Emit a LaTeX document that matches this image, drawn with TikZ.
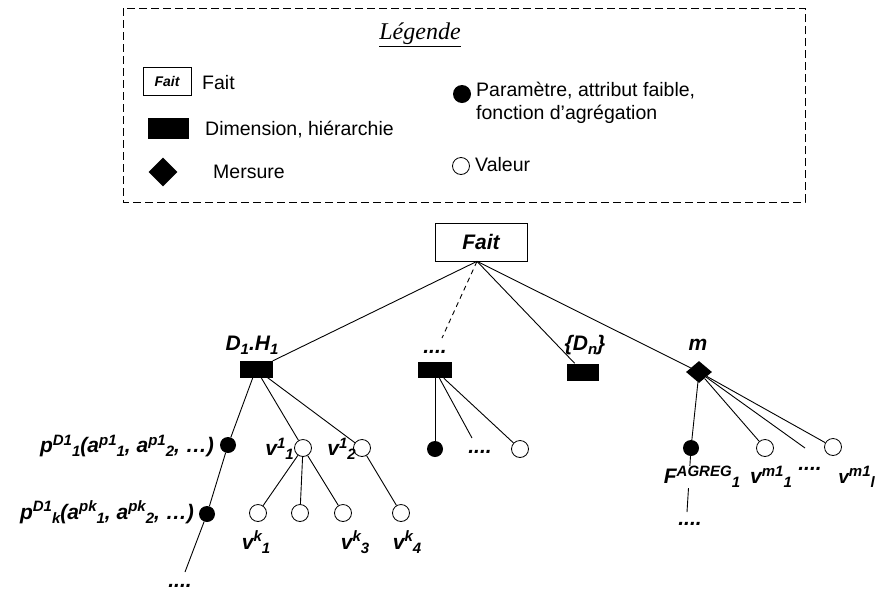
\documentclass[tikz,border=0pt]{standalone}
\usepackage{fontspec}
\setmainfont{Liberation Sans}
\newfontfamily\legfont{Liberation Serif}
\usetikzlibrary{shapes.geometric}

\newcommand\supx[1]{\raisebox{7.5pt}{\fontsize{15}{15}\selectfont #1}}
\newcommand\subx[1]{\raisebox{-4pt}{\fontsize{15}{15}\selectfont #1}}

\tikzset{lbl/.style = {font=\fontsize{21}{24}\selectfont\bfseries\itshape,
                       inner sep=1pt},
         ltxt/.style = {font=\fontsize{19.5}{23.5}\selectfont,
                        anchor=west, inner sep=0pt, align=left},
         faitbox/.style = {draw, line width=0.7pt,
                           minimum width=92pt, minimum height=38pt,
                           font=\fontsize{21}{24}\selectfont\bfseries\itshape},
         dimbox/.style = {fill=black, inner sep=0pt,
                          minimum width=33pt, minimum height=17pt},
         mesnode/.style = {diamond, fill=black, inner sep=0pt,
                           minimum width=26pt, minimum height=22pt},
         parnode/.style = {circle, fill=black, inner sep=0pt,
                           minimum size=16pt},
         valnode/.style = {circle, draw, line width=0.8pt, fill=white,
                           inner sep=0pt, minimum size=17pt},
         lien/.style = {line width=0.9pt}}

\begin{document}
\begin{tikzpicture}[x=1pt, y=-1pt]
	\useasboundingbox (0,0) rectangle (876,595);

	% legende
	\draw[line width=0.8pt, dash pattern=on 8pt off 4pt] (123,8) rectangle (805,202);
	\node[font=\legfont\fontsize{24}{27}\selectfont\itshape] (titre) at (420,35) {\underline{Légende}};
	\node[draw, line width=0.7pt, minimum width=48pt, minimum height=28pt,
	      font=\fontsize{14}{16}\selectfont\bfseries\itshape] (lfait) at (167,81) {Fait};
	\node[dimbox, minimum width=41pt, minimum height=21pt] (ldim) at (168,128) {};
	\node[mesnode, minimum width=29pt, minimum height=29pt] (lmes) at (163,172) {};
	\node[parnode, minimum size=18pt] (lpar) at (462,94) {};
	\node[valnode, minimum size=17pt] (lval) at (461,166) {};
	\node[ltxt] (tfait) at (202,83) {Fait};
	\node[ltxt] (tdim) at (205,130) {Dimension, hiérarchie};
	\node[ltxt] (tmes) at (213,172) {Mersure};
	\node[ltxt] (tpar) at (476,103) {Paramètre, attribut faible,\\fonction d’agrégation};
	\node[ltxt] (tval) at (475,165) {Valeur};

	% fait et dimensions
	\node[faitbox] (fait) at (481,242) {Fait};
	\coordinate (froot) at ([xshift=-4pt]fait.south);
	\node[dimbox] (d1) at (256,369) {};
	\node[dimbox, minimum width=34pt, minimum height=16pt] (dd) at (435,370) {};
	\node[dimbox, minimum width=32pt] (dn) at (583,372) {};
	\node[mesnode] (m) at (699,372) {};
	\node[lbl] (ld1) at (252,345) {D\subx{1}.H\subx{1}};
	\node[lbl] (ldd) at (435,352) {....};
	\node[lbl] (ldn) at (585,345) {\{D\subx{n}\}};
	\node[lbl] (lm) at (698,345) {m};
	\coordinate (ddend) at (442,338);

	\draw[lien] (froot) -- (d1);
	\draw[lien, dash pattern=on 5pt off 4pt] (froot) -- (ddend);
	\draw[lien] (froot) -- (dn);
	\draw[lien] (froot) -- (m);

	% D1.H1
	\node[parnode] (p1) at (228,445) {};
	\node[parnode] (pk) at (207,514) {};
	\coordinate (pend) at (185,572);
	\node[valnode] (v11) at (303,448) {};
	\node[valnode] (v12) at (362,448) {};
	\node[valnode] (vk1) at (258,513) {};
	\node[valnode] (vk2) at (300,513) {};
	\node[valnode] (vk3) at (343,513) {};
	\node[valnode] (vk4) at (401,513) {};
	\draw[lien] (d1) -- (p1);
	\draw[lien] (p1) -- (pk);
	\draw[lien] (pk) -- (pend);
	\draw[lien] (d1) -- (v11);
	\draw[lien] (d1) -- (v12);
	\draw[lien] (v11) -- (vk1);
	\draw[lien] (v11) -- (vk2);
	\draw[lien] (v11) -- (vk3);
	\draw[lien] (v12) -- (vk4);
	\node[lbl, anchor=east] (lp1) at (215,446) {p\supx{D1}\subx{1}(a\supx{p1}\subx{1}, a\supx{p1}\subx{2}, …)};
	\node[lbl, anchor=east] (lpk) at (195,512) {p\supx{D1}\subx{k}(a\supx{pk}\subx{1}, a\supx{pk}\subx{2}, …)};
	\node[lbl] (lpend) at (180,586) {....};
	\node[lbl, anchor=east] (lv11) at (295,449) {v\supx{1}\subx{1}};
	\node[lbl, anchor=east] (lv12) at (357,449) {v\supx{1}\subx{2}};
	\node[lbl] (lvk1) at (256,542) {v\supx{k}\subx{1}};
	\node[lbl] (lvk3) at (355,542) {v\supx{k}\subx{3}};
	\node[lbl] (lvk4) at (407,542) {v\supx{k}\subx{4}};

	% ....
	\node[parnode] (dp) at (435,449) {};
	\coordinate (dend) at (472,438);
	\node[valnode] (dv) at (520,449) {};
	\draw[lien] (dd) -- (dp);
	\draw[lien] (dd) -- (dend);
	\draw[lien] (dd) -- (dv);
	\node[lbl] (ldend) at (480,452) {....};

	% mesure
	\node[parnode] (mp) at (691,448) {};
	\coordinate (mpend) at (687,512);
	\node[valnode] (mv1) at (765,448) {};
	\coordinate (mend) at (805,448);
	\node[valnode] (mvl) at (833,447) {};
	\draw[lien] (m) -- (mp);
	\draw[lien] (mp) -- (mpend);
	\draw[lien] (m) -- (mv1);
	\draw[lien] (m) -- (mend);
	\draw[lien] (m) -- (mvl);
	\node[lbl, fill=white, inner sep=0pt] (lmp) at (702,477) {F\supx{AGREG}\subx{1}};
	\node[lbl] (lmpend) at (690,524) {....};
	\node[lbl] (lmv1) at (771,477) {v\supx{m1}\subx{1}};
	\node[lbl] (lmend) at (810,469) {....};
	\node[lbl, anchor=east, inner sep=0pt, font=\fontsize{19}{22}\selectfont\bfseries\itshape] (lmvl) at (875,477) {v\supx{m1}\subx{l}};
\end{tikzpicture}
\end{document}
